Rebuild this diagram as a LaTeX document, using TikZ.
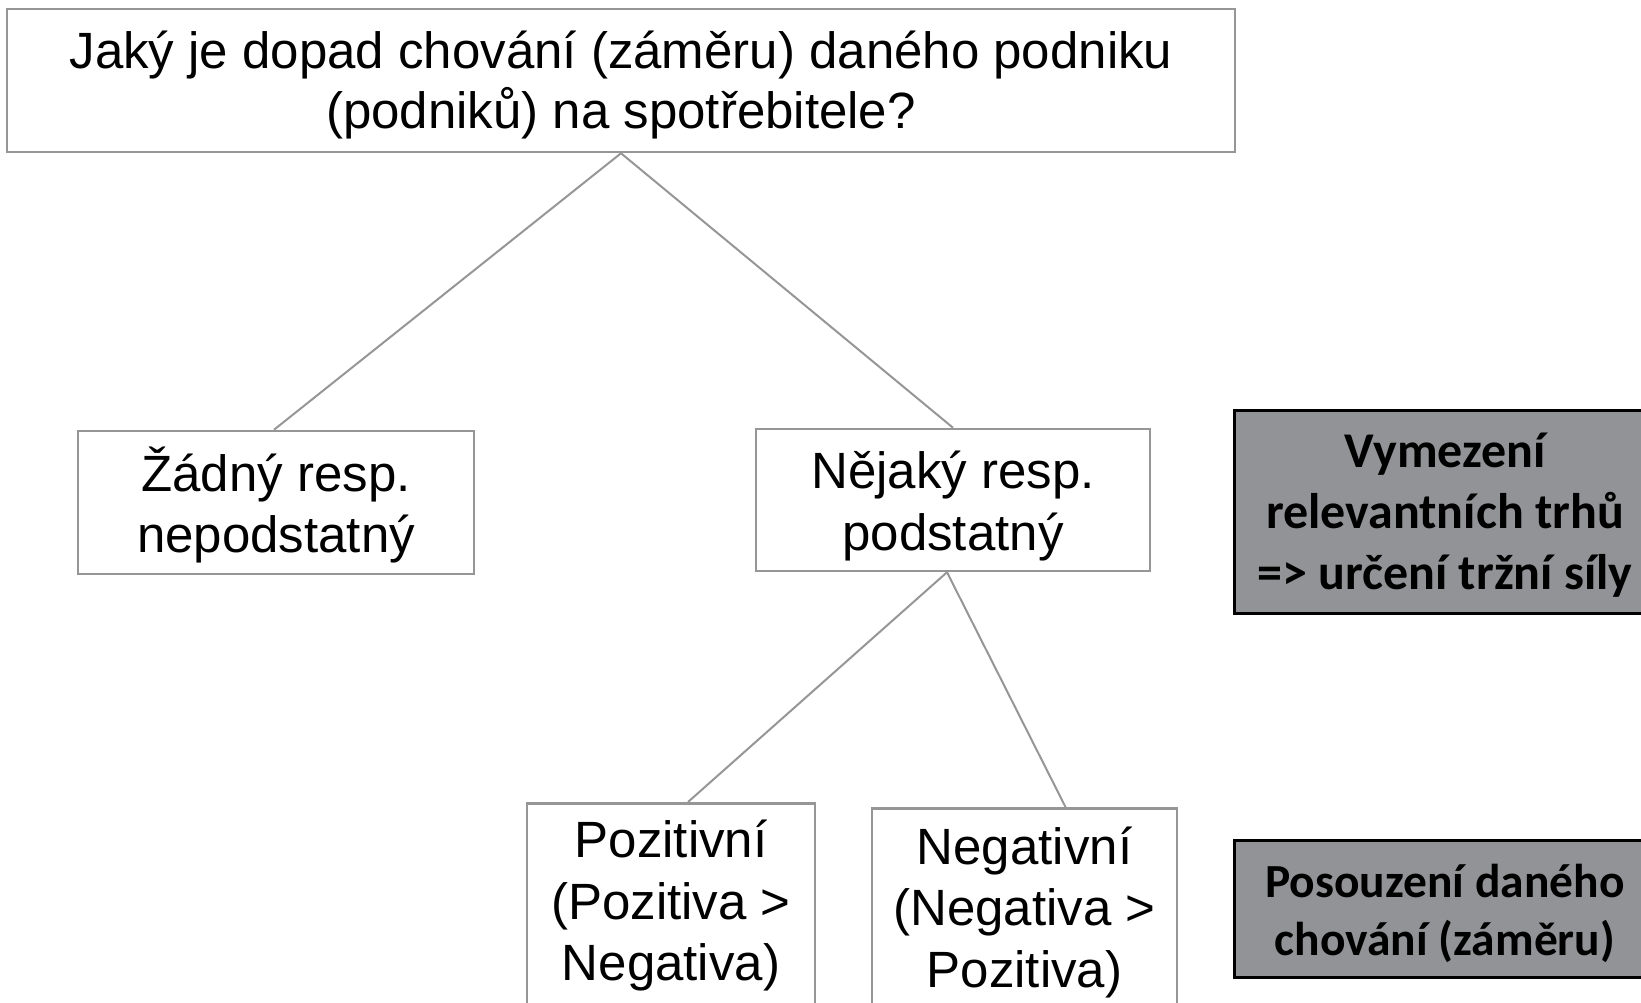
\documentclass[tikz,border=0pt]{standalone}
\usepackage{fontspec}
\setmainfont{Liberation Sans}
\newfontfamily\calfont{Carlito}
\usetikzlibrary{calc}
\definecolor{linegray}{RGB}{150,150,150}
\definecolor{boxgray}{RGB}{146,147,151}
\begin{document}
\begin{tikzpicture}[x=1pt,y=-1pt,
  wbox/.style={draw=linegray, line width=2.5pt, fill=white, inner sep=0pt},
  gbox/.style={draw=black, line width=3pt, fill=boxgray, inner sep=0pt},
  wtxt/.style={align=center, font=\fontsize{51}{60}\selectfont, inner sep=0pt},
  wtxtb/.style={align=center, font=\fontsize{51}{61.5}\selectfont, inner sep=0pt},
  gtxt/.style={align=center, font=\calfont\bfseries\fontsize{50}{61}\selectfont, inner sep=0pt},
  gtxtb/.style={align=center, font=\calfont\bfseries\fontsize{47.5}{58}\selectfont, inner sep=0pt},
  conn/.style={draw=linegray, line width=2pt}]
\useasboundingbox (0,0) rectangle (1641,1003);

% top question
\node[wbox, minimum width=1228pt, minimum height=143pt] (top) at (621,80.5) {};
\node[wtxt] (topT) at (621,85) {Jaký je dopad chování (záměru) daného podniku\\(podniků) na spotřebitele?};

% second level
\node[wbox, minimum width=396pt, minimum height=143pt] (none) at (276,502.5) {};
\node[wtxt] (noneT) at (276,505) {Žádný resp.\\nepodstatný};
\node[wbox, minimum width=394pt, minimum height=142pt] (some) at (953,500) {};
\node[wtxtb] (someT) at (953,506) {Nějaký resp.\\podstatný};

% third level
\node[wbox, minimum width=288pt, minimum height=240pt, anchor=north] (pos) at (671,802) {};
\node[wtxtb] (posT) at (671,906) {Pozitivní\\(Pozitiva >\\Negativa)};
\node[wbox, minimum width=305pt, minimum height=240pt, anchor=north] (neg) at (1024.5,807) {};
\node[wtxtb] (negT) at (1024.5,912) {Negativní\\(Negativa >\\Pozitiva)};

% grey side boxes
\node[gbox, minimum width=422pt, minimum height=203pt] (market) at (1445,511.5) {};
\node[gtxt] (marketT) at (1445,515) {Vymezení\\relevantních trhů\\=> určení tržní síly};
\node[gbox, minimum width=422pt, minimum height=137pt] (assess) at (1445,908.5) {};
\node[gtxtb] (assessT) at (1445,913) {Posouzení daného\\chování (záměru)};

% connectors
\draw[conn] (top.south) -- ($(none.north)+(-2,0)$);
\draw[conn] (top.south) -- (some.north);
\draw[conn] ($(some.south)+(-6,0)$) -- ($(pos.north)+(17,0)$);
\draw[conn] ($(some.south)+(-6,0)$) -- ($(neg.north)+(41,0)$);
\end{tikzpicture}
\end{document}
